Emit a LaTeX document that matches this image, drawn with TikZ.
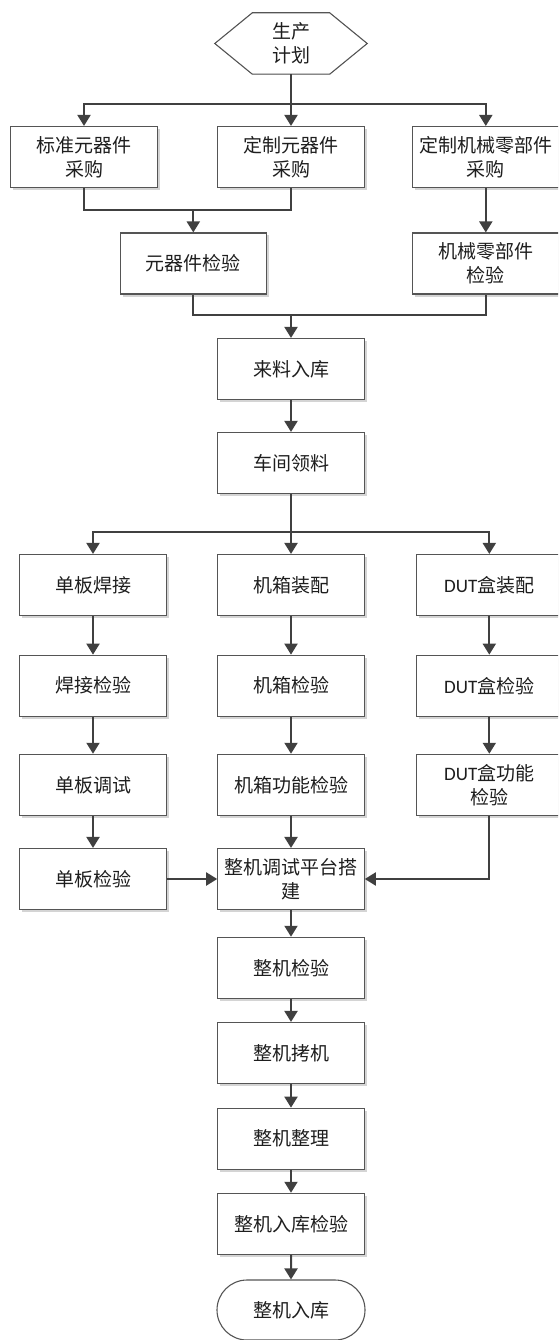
\documentclass[tikz,border=0pt]{standalone}
\usepackage{fontspec}
\setmainfont{Noto Sans CJK SC}
\newfontfamily\dutfont{Carlito}
\usetikzlibrary{arrows.meta,shapes.misc,shadows,calc,backgrounds}

\definecolor{edge}{HTML}{404040}
\definecolor{frame}{HTML}{555555}
\definecolor{shade}{HTML}{D4D4D4}
\definecolor{ink}{HTML}{1E1E1E}

\tikzset{
  base/.style={font=\fontsize{19pt}{24pt}\selectfont, text=ink, align=center, inner sep=2pt},
  proc/.style={base, draw=frame, line width=1.1pt, fill=white,
    minimum width=146.5pt, minimum height=61pt,
    general shadow={fill=shade, shadow xshift=2.5pt, shadow yshift=-2.5pt}},
  term/.style={base, shape=rounded rectangle, draw=frame, line width=1.1pt, fill=white,
    minimum width=152pt, minimum height=60pt},
  conn/.style={draw=edge, line width=2pt, line join=miter},
  arr/.style={conn, -{Triangle[length=11pt,width=13pt]}}
}

\begin{document}
\begin{tikzpicture}[x=1pt,y=-1pt]
  \useasboundingbox (0,0) rectangle (558,1340);
  \clip (0,0) rectangle (558,1340);

  % start: hexagonal plan node
  \node[base, minimum width=152pt, minimum height=61pt] (plan) at (291,43.5) {生产\\计划};
  \begin{scope}[on background layer]
    \fill[shade, shift={(2.5,2.5)}] (plan.west) -- ($(plan.north west)+(37.5,0)$) -- ($(plan.north east)+(-37.5,0)$)
      -- (plan.east) -- ($(plan.south east)+(-37.5,0)$) -- ($(plan.south west)+(37.5,0)$) -- cycle;
    \draw[frame, line width=1.1pt, fill=white] (plan.west) -- ($(plan.north west)+(37.5,0)$) -- ($(plan.north east)+(-37.5,0)$)
      -- (plan.east) -- ($(plan.south east)+(-37.5,0)$) -- ($(plan.south west)+(37.5,0)$) -- cycle;
  \end{scope}

  % purchasing
  \node[proc] (buyStd)  at (84,157)    {标准元器件\\采购};
  \node[proc] (buyCus)  at (291,157)   {定制元器件\\采购};
  \node[proc] (buyMech) at (485.8,157) {定制机械零部件\\采购};

  % incoming inspection
  \node[proc] (chkPart) at (193.3,263.5) {元器件检验};
  \node[proc] (chkMech) at (485.8,263.5) {机械零部件\\检验};

  \node[proc] (store) at (291,369) {来料入库};
  \node[proc] (pick)  at (291,463) {车间领料};

  % three assembly lines
  \node[proc] (weld)     at (93,585)    {单板焊接};
  \node[proc] (weldChk)  at (93,685.7)  {焊接检验};
  \node[proc] (debug)    at (93,784.8)  {单板调试};
  \node[proc] (boardChk) at (93,879)    {单板检验};

  \node[proc] (caseAsm)  at (291,585)   {机箱装配};
  \node[proc] (caseChk)  at (291,685.7) {机箱检验};
  \node[proc] (caseFunc) at (291,784.8) {机箱功能检验};

  \node[proc] (dutAsm)   at (489.3,585)   {{\dutfont DUT}盒装配};
  \node[proc] (dutChk)   at (489.3,685.7) {{\dutfont DUT}盒检验};
  \node[proc] (dutFunc)  at (489.3,784.8) {{\dutfont DUT}盒功能\\检验};

  % final assembly chain
  \node[proc] (build)    at (291,879)    {整机调试平台搭\\建};
  \node[proc] (sysChk)   at (291,967.8)  {整机检验};
  \node[proc] (burn)     at (291,1053)   {整机拷机};
  \node[proc] (tidy)     at (291,1138.7) {整机整理};
  \node[proc] (stockChk) at (291,1223.8) {整机入库检验};
  \node[term] (done)     at (291,1310)   {整机入库};

  % junction points
  \coordinate (busA)   at (291,104);
  \coordinate (mergeA) at (193.3,210);
  \coordinate (mergeB) at (291,315.3);
  \coordinate (busB)   at (291,532.3);

  % connectors
  \draw[conn] (plan.south) -- (busA);
  \draw[arr] (busA) -| (buyStd.north);
  \draw[arr] (busA) -- (buyCus.north);
  \draw[arr] (busA) -| (buyMech.north);

  \draw[conn] (buyStd.south) |- (mergeA) -| (buyCus.south);
  \draw[arr] (mergeA) -- (chkPart.north);
  \draw[arr] (buyMech) -- (chkMech);

  \draw[conn] (chkPart.south) |- (mergeB) -| (chkMech.south);
  \draw[arr] (mergeB) -- (store.north);
  \draw[arr] (store) -- (pick);

  \draw[conn] (pick.south) -- (busB);
  \draw[arr] (busB) -| (weld.north);
  \draw[arr] (busB) -- (caseAsm.north);
  \draw[arr] (busB) -| (dutAsm.north);

  \draw[arr] (weld) -- (weldChk);
  \draw[arr] (weldChk) -- (debug);
  \draw[arr] (debug) -- (boardChk);
  \draw[arr] (caseAsm) -- (caseChk);
  \draw[arr] (caseChk) -- (caseFunc);
  \draw[arr] (caseFunc) -- (build);
  \draw[arr] (dutAsm) -- (dutChk);
  \draw[arr] (dutChk) -- (dutFunc);

  \draw[arr] (boardChk.east) -- (build.west);
  \draw[arr] (dutFunc.south) |- (build.east);

  \draw[arr] (build) -- (sysChk);
  \draw[arr] (sysChk) -- (burn);
  \draw[arr] (burn) -- (tidy);
  \draw[arr] (tidy) -- (stockChk);
  \draw[arr] (stockChk) -- (done);
\end{tikzpicture}
\end{document}
